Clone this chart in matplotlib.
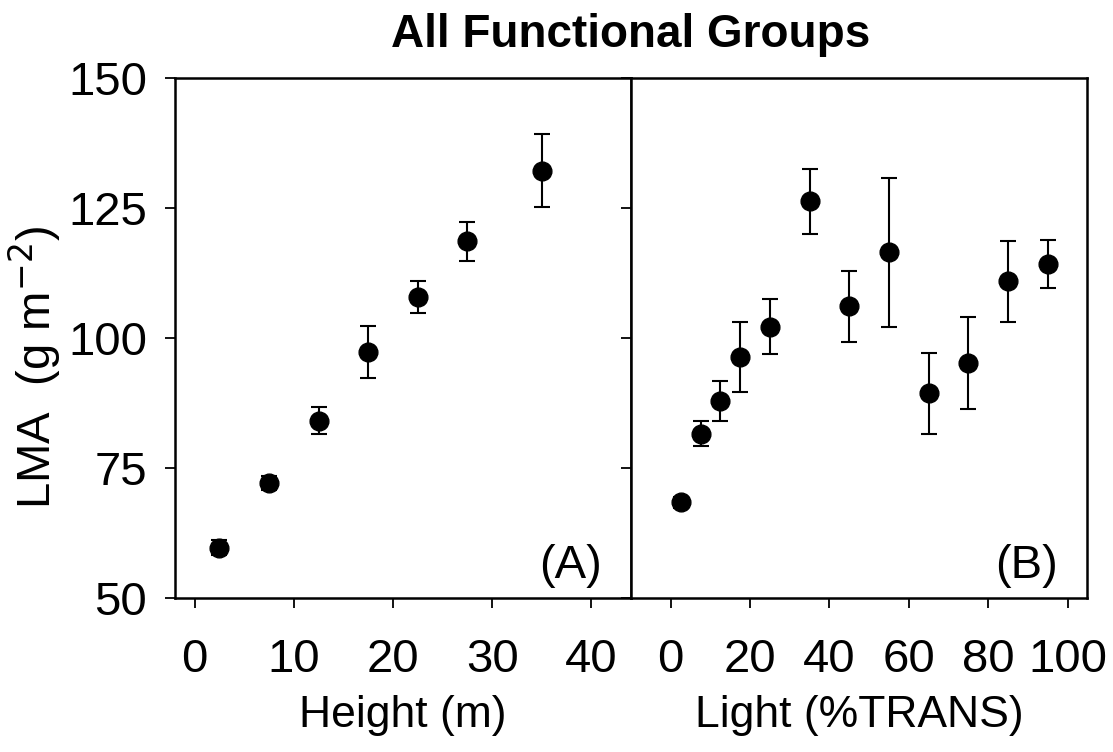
import numpy as np
import matplotlib
matplotlib.use("Agg")
import matplotlib.pyplot as plt

plt.rcParams["font.family"] = ["Liberation Sans", "DejaVu Sans"]

# panel A: LMA vs height
height = [2.5, 7.5, 12.5, 17.5, 22.5, 27.5, 35.0]
lma_h = [59.7, 72.1, 84.1, 97.4, 107.9, 118.6, 132.2]
err_h = [1.4, 1.4, 2.6, 5.0, 3.1, 3.8, 7.0]

# panel B: LMA vs light
light = [2.5, 7.5, 12.5, 17.5, 25, 35, 45, 55, 65, 75, 85, 95]
lma_l = [68.4, 81.6, 87.9, 96.4, 102.2, 126.3, 106.1, 116.5, 89.4, 95.2, 110.9, 114.3]
err_l = [1.0, 2.4, 3.9, 6.8, 5.3, 6.2, 6.8, 14.4, 7.8, 8.8, 7.7, 4.6]

TICK = 34
LABEL = 32
fig = plt.figure(figsize=(11.13, 7.52), dpi=100)
ax1 = fig.add_axes([0.157, 0.2048, 0.410, 0.6911])
ax2 = fig.add_axes([0.567, 0.2048, 0.410, 0.6911])

style = dict(fmt="o", color="black", ms=13.5, ecolor="black", elinewidth=1.5,
             capsize=6, capthick=1.5)
ax1.errorbar(height, lma_h, yerr=err_h, **style)
ax2.errorbar(light, lma_l, yerr=err_l, **style)

for ax in (ax1, ax2):
    ax.set_ylim(50, 150)
    ax.set_yticks([50, 75, 100, 125, 150])
    for s in ax.spines.values():
        s.set_linewidth(1.8)
    ax.tick_params(axis="x", direction="out", length=7, width=1.3,
                   labelsize=TICK, pad=22)
    ax.tick_params(axis="y", direction="out", length=7, width=1.3,
                   labelsize=TICK, pad=13)

ax1.set_xlim(-2, 44)
ax1.set_xticks([0, 10, 20, 30, 40])
ax1.set_xlabel("Height (m)", fontsize=LABEL, labelpad=9)
ax1.set_ylabel("LMA  (g m$^{-2}$)", fontsize=34)
ax1.yaxis.set_label_coords(-0.245, 0.444)
ax1.text(0.935, 0.02, "(A)", transform=ax1.transAxes, ha="right", va="bottom",
         fontsize=34)

ax2.set_xlim(-10, 105)
ax2.set_xticks([0, 20, 40, 60, 80, 100])
ax2.tick_params(axis="y", labelleft=False)
ax2.set_xlabel("Light (%TRANS)", fontsize=LABEL, labelpad=9)
ax2.text(0.935, 0.02, "(B)", transform=ax2.transAxes, ha="right", va="bottom",
         fontsize=34)

fig.text(0.567, 0.953, "All Functional Groups", ha="center", va="center",
         fontsize=33, fontweight="bold")

plt.savefig("out.png", dpi=100)
